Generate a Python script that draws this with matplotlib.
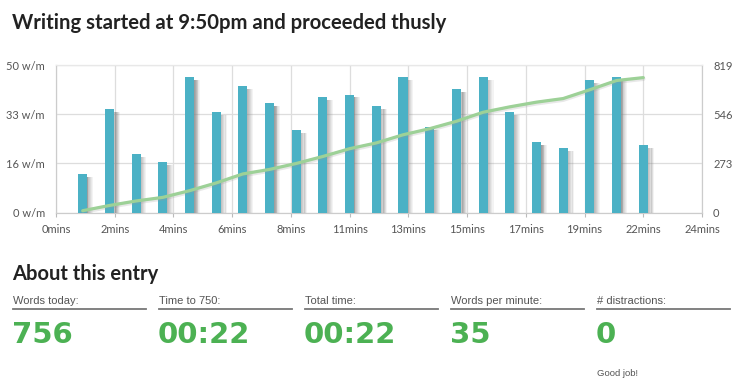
import numpy as np
import matplotlib
matplotlib.use("Agg")
import matplotlib.pyplot as plt

# Words per minute, one bar per minute (minutes 1..22)
minutes = list(range(1, 23))
wpm = [13, 35, 20, 17, 46, 34, 43, 37, 28, 39, 40, 36,
       46, 29, 42, 46, 34, 24, 22, 45, 46, 23]
# Running total of words (right axis)
total_words = [11, 40, 65, 85, 122, 165, 215, 240, 273, 312, 355, 387,
               432, 466, 507, 557, 587, 613, 633, 682, 733, 749]

x_tick_labels = ["0mins", "2mins", "4mins", "6mins", "8mins", "11mins",
                 "13mins", "15mins", "17mins", "19mins", "22mins", "24mins"]
left_tick_labels = ["0 w/m", "16 w/m", "33 w/m", "50 w/m"]
right_ticks = [0, 273, 546, 819]

stat_labels = ["Words today:", "Time to 750:", "Total time:",
               "Words per minute:", "# distractions:"]
stat_values = ["756", "00:22", "00:22", "35", "0"]

W, H = 750, 388
plt.rcParams['font.family'] = ['Lato', 'DejaVu Sans']
fig = plt.figure(figsize=(W / 100, H / 100), dpi=100)
fig.patch.set_facecolor("white")


def px(x, y):
    return x / W, 1 - y / H


# chart area
ax = fig.add_axes([56 / W, 1 - 212.7 / H, 646 / W, 147.7 / H])
ax2 = ax.twinx()
ax.set_zorder(ax2.get_zorder() + 1)
ax.patch.set_visible(False)

bar_w = 0.34
x = np.array(minutes, dtype=float)
# soft grey shadow fading out to the right of each bar
alphas = [0.55, 0.47, 0.38, 0.28, 0.18, 0.09]
for i, a in enumerate(alphas):
    ax.bar(x + 0.14 + i * 0.04, np.array(wpm) - 1.0, width=0.05,
           align="edge", color="#808080", alpha=a, linewidth=0, zorder=2)
ax.bar(x, wpm, width=bar_w, color="#4bb1c5", linewidth=0, zorder=3)

# cumulative line (right axis scale mapped onto left axis)
scale = 50 / 819
ax.plot(x, np.array(total_words) * scale - 0.4, color="#999999", alpha=0.22,
        lw=3.2, solid_capstyle="round", zorder=4)
ax.plot(x, np.array(total_words) * scale, color="#9dd197", lw=2.3,
        solid_capstyle="round", zorder=5)

ax.set_xlim(0, 24.2)
ax.set_ylim(0, 50)
ax.set_xticks([i * 2.2 for i in range(12)])
ax.set_xticklabels(x_tick_labels)
ax.set_yticks([0, 50 / 3, 100 / 3, 50])
ax.set_yticklabels(left_tick_labels)
ax.grid(True, color="#dddddd", lw=0.9, zorder=0)
ax.set_axisbelow(True)
ax.tick_params(axis="x", length=3, color="#bbbbbb", labelsize=8,
               labelcolor="#555555", pad=5)
ax.tick_params(axis="y", length=0, labelsize=8, labelcolor="#555555", pad=8)

ax2.set_ylim(0, 819)
ax2.set_yticks(right_ticks)
ax2.tick_params(axis="y", length=0, labelsize=8, labelcolor="#555555", pad=8)

for a in (ax, ax2):
    a.spines["top"].set_color("#e8e8e8")
    a.spines["left"].set_color("#cccccc")
    a.spines["right"].set_color("#cccccc")
    a.spines["bottom"].set_color("#cccccc")

# title
fig.text(*px(12, 29), "Writing started at 9:50pm and proceeded thusly",
         fontsize=14.6, fontweight="bold", color="#222222", va="baseline")

# about section
fig.text(*px(12, 280), "About this entry", fontsize=14.5, fontweight="bold",
         color="#222222", va="baseline")

col_x = [13, 159, 305, 451, 597]
for cx, lab, val in zip(col_x, stat_labels, stat_values):
    fig.text(*px(cx, 304), lab, fontsize=8, color="#555555",
             family=["Liberation Sans", "DejaVu Sans"], va="baseline")
    fig.add_artist(plt.Line2D([cx / W, (cx + 133) / W], [1 - 309 / H] * 2,
                              color="#777777", lw=1.3))
    fig.text(*px(cx - 1, 343), val, fontsize=21, fontweight="bold",
             color="#4cb153", family=["DejaVu Sans"], va="baseline")

fig.text(*px(597, 376), "Good job!", fontsize=6.8, color="#555555",
         family=["Liberation Sans", "DejaVu Sans"], va="baseline")

fig.savefig("out.png", dpi=100, facecolor="white")
